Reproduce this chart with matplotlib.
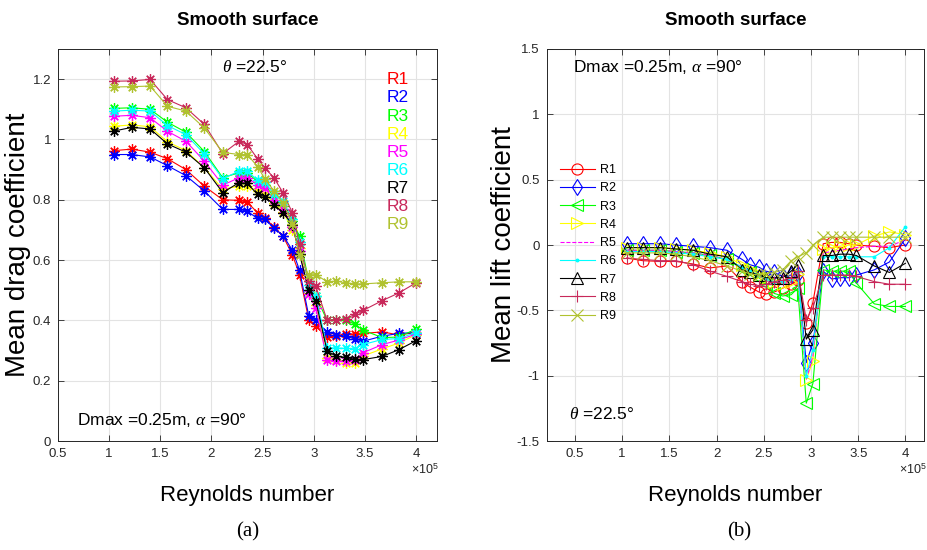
import matplotlib
matplotlib.use("Agg")
import matplotlib.pyplot as plt
from matplotlib.ticker import FuncFormatter

plt.rcParams['font.family'] = ['Liberation Sans', 'DejaVu Sans']
plt.rcParams['mathtext.fontset'] = 'custom'
plt.rcParams['mathtext.it'] = 'Liberation Serif:italic'
plt.rcParams['mathtext.rm'] = 'Liberation Sans'

# Reynolds number (x 1e5), same for both panels
re = [1.05, 1.22, 1.40, 1.57, 1.75, 1.93, 2.11, 2.27, 2.35, 2.45, 2.52, 2.61, 2.70,
      2.79, 2.86, 2.95, 3.02, 3.13, 3.22, 3.31, 3.40, 3.48, 3.67, 3.83, 4.00]

names = ['R1', 'R2', 'R3', 'R4', 'R5', 'R6', 'R7', 'R8', 'R9']

# (a) mean drag coefficient
cd_r1 = [0.963, 0.968, 0.958, 0.936, 0.900, 0.845, 0.800, 0.798, 0.792, 0.757, 0.741, 0.709, 0.679,
         0.618, 0.552, 0.403, 0.381, 0.345, 0.348, 0.355, 0.355, 0.357, 0.362, 0.352, 0.360]
cd_r2 = [0.950, 0.950, 0.942, 0.913, 0.880, 0.829, 0.768, 0.768, 0.762, 0.738, 0.735, 0.707, 0.681,
         0.633, 0.567, 0.416, 0.400, 0.361, 0.353, 0.348, 0.339, 0.331, 0.348, 0.357, 0.360]
cd_r3 = [1.103, 1.105, 1.100, 1.057, 1.024, 0.960, 0.873, 0.890, 0.890, 0.860, 0.850, 0.810, 0.780,
         0.730, 0.679, 0.530, 0.480, 0.400, 0.403, 0.403, 0.387, 0.368, 0.343, 0.345, 0.372]
cd_r4 = [1.044, 1.048, 1.042, 0.992, 0.963, 0.906, 0.835, 0.845, 0.845, 0.830, 0.820, 0.790, 0.760,
         0.700, 0.640, 0.490, 0.450, 0.275, 0.270, 0.260, 0.260, 0.282, 0.306, 0.325, 0.353]
cd_r5 = [1.077, 1.080, 1.072, 1.027, 0.994, 0.928, 0.849, 0.873, 0.873, 0.850, 0.840, 0.800, 0.770,
         0.710, 0.630, 0.486, 0.440, 0.270, 0.265, 0.265, 0.268, 0.293, 0.320, 0.335, 0.355]
cd_r6 = [1.094, 1.097, 1.094, 1.046, 1.016, 0.952, 0.870, 0.895, 0.895, 0.865, 0.860, 0.818, 0.795,
         0.735, 0.660, 0.519, 0.480, 0.309, 0.309, 0.307, 0.306, 0.320, 0.337, 0.340, 0.360]
cd_r7 = [1.028, 1.040, 1.035, 0.985, 0.958, 0.906, 0.824, 0.857, 0.854, 0.818, 0.810, 0.784, 0.757,
         0.718, 0.620, 0.502, 0.464, 0.298, 0.281, 0.278, 0.271, 0.270, 0.281, 0.303, 0.333]
cd_r8 = [1.193, 1.194, 1.199, 1.132, 1.105, 1.050, 0.953, 0.994, 0.983, 0.936, 0.906, 0.873, 0.823,
         0.757, 0.652, 0.530, 0.513, 0.400, 0.403, 0.405, 0.420, 0.433, 0.466, 0.491, 0.525]
cd_r9 = [1.174, 1.175, 1.177, 1.110, 1.094, 1.038, 0.957, 0.950, 0.950, 0.910, 0.870, 0.830, 0.790,
         0.720, 0.618, 0.550, 0.552, 0.528, 0.530, 0.525, 0.521, 0.521, 0.525, 0.528, 0.528]

# (b) mean lift coefficient
cl_r1 = [-0.10, -0.12, -0.125, -0.125, -0.145, -0.175, -0.16, -0.28, -0.32, -0.36, -0.375, -0.36, -0.33,
         -0.30, -0.27, -0.60, -0.44, 0.01, 0.02, 0.02, 0.01, 0.00, -0.01, -0.02, 0.00]
cl_r2 = [0.01, 0.01, 0.01, 0.00, -0.01, -0.02, -0.04, -0.11, -0.15, -0.17, -0.20, -0.21, -0.24,
         -0.23, -0.22, -0.90, -0.75, -0.20, -0.26, -0.25, -0.25, -0.23, -0.19, -0.13, 0.05]
cl_r3 = [-0.04, -0.04, -0.04, -0.05, -0.06, -0.08, -0.11, -0.18, -0.21, -0.25, -0.30, -0.37, -0.39,
         -0.38, -0.33, -1.21, -1.06, -0.19, -0.20, -0.20, -0.20, -0.29, -0.45, -0.47, -0.47]
cl_r4 = [-0.02, -0.02, -0.02, -0.03, -0.04, -0.06, -0.09, -0.15, -0.18, -0.22, -0.25, -0.28, -0.30,
         -0.28, -0.22, -1.03, -0.89, -0.03, -0.02, -0.01, 0.00, 0.00, 0.07, 0.10, 0.08]
cl_r5 = [-0.04, -0.04, -0.04, -0.05, -0.06, -0.08, -0.11, -0.17, -0.20, -0.24, -0.27, -0.30, -0.30,
         -0.28, -0.22, -1.03, -0.85, -0.06, -0.05, -0.04, -0.03, -0.02, -0.01, -0.01, 0.04]
cl_r6 = [-0.05, -0.05, -0.05, -0.06, -0.07, -0.09, -0.11, -0.17, -0.20, -0.23, -0.26, -0.28, -0.28,
         -0.26, -0.20, -1.00, -0.80, -0.09, -0.09, -0.09, -0.09, -0.09, -0.09, -0.02, 0.14]
cl_r7 = [-0.02, -0.02, -0.02, -0.03, -0.04, -0.07, -0.09, -0.19, -0.21, -0.23, -0.25, -0.25, -0.25,
         -0.20, -0.15, -0.72, -0.65, -0.08, -0.08, -0.07, -0.07, -0.08, -0.16, -0.21, -0.14]
cl_r8 = [-0.10, -0.11, -0.12, -0.12, -0.15, -0.20, -0.24, -0.28, -0.30, -0.31, -0.30, -0.28, -0.27,
         -0.25, -0.20, -0.57, -0.48, -0.23, -0.23, -0.23, -0.23, -0.24, -0.28, -0.30, -0.30]
cl_r9 = [-0.06, -0.06, -0.06, -0.07, -0.09, -0.12, -0.16, -0.20, -0.22, -0.23, -0.22, -0.21, -0.19,
         -0.12, -0.09, -0.06, 0.00, 0.06, 0.06, 0.06, 0.06, 0.06, 0.06, 0.06, 0.06]

cd_all = [cd_r1, cd_r2, cd_r3, cd_r4, cd_r5, cd_r6, cd_r7, cd_r8, cd_r9]
cl_all = [cl_r1, cl_r2, cl_r3, cl_r4, cl_r5, cl_r6, cl_r7, cl_r8, cl_r9]

colors = ['#ff0000', '#0000ff', '#00ff00', '#ffff00', '#ff00ff', '#00ffff', '#000000', '#c8285a', '#b0c22f']
lift_markers = ['o', 'd', '<', '>', '', '.', '^', '+', 'x']
lift_styles = ['-', '-', '-', '-', '--', '-', '-', '-', '-']

fig = plt.figure(figsize=(9.28, 5.5), dpi=100)
ax1 = fig.add_axes([0.0625, 0.198, 0.408, 0.713])
ax2 = fig.add_axes([0.589, 0.198, 0.407, 0.713])


def style_axes(ax):
    ax.grid(True, color='#e3e3e3', linewidth=0.8)
    ax.set_axisbelow(True)
    for s in ax.spines.values():
        s.set_color('#262626')
        s.set_linewidth(0.7)
    ax.tick_params(direction='in', length=4, width=0.6, top=True, right=True,
                   labelsize=9.5, colors='#262626', pad=5)
    ax.set_xticks([0.5, 1, 1.5, 2, 2.5, 3, 3.5, 4])
    ax.xaxis.set_major_formatter(FuncFormatter(lambda v, p: '%g' % v))
    ax.yaxis.set_major_formatter(FuncFormatter(lambda v, p: '%g' % v))
    ax.set_xlabel('Reynolds number', fontsize=16, labelpad=18)
    ax.set_title('Smooth surface', fontsize=13.5, fontweight='bold', pad=17)
    ax.text(1.006, -0.072, r'$\times10^5$', transform=ax.transAxes, ha='right', va='center',
            fontsize=9, color='#262626')


# ---- (a) drag ----
for vals, c in zip(cd_all, colors):
    ax1.plot(re, vals, color=c, linewidth=0.8, marker=(8, 2, 0), markersize=7.5,
             markeredgewidth=0.9)
ax1.set_xlim(0.5, 4.2)
ax1.set_ylim(0, 1.3)
ax1.set_yticks([0, 0.2, 0.4, 0.6, 0.8, 1.0, 1.2])
style_axes(ax1)
ax1.set_ylabel('Mean drag coefficient', fontsize=20, labelpad=1)
ax1.text(0.52, 0.955, r'$\theta$ =22.5°', transform=ax1.transAxes, ha='center', va='center',
         fontsize=12.5)
ax1.text(0.05, 0.03, r'Dmax =0.25m, $\alpha$ =90°', transform=ax1.transAxes, ha='left',
         va='bottom', fontsize=12.5)
for i, (n, c) in enumerate(zip(names, colors)):
    ax1.text(0.868, 0.921 - i * 0.046, n, transform=ax1.transAxes, color=c, fontsize=12.5,
             ha='left', va='center')

# ---- (b) lift ----
for vals, c, m, ls, n in zip(cl_all, colors, lift_markers, lift_styles, names):
    ax2.plot(re, vals, color=c, linewidth=0.8, linestyle=ls, marker=m if m else None,
             markersize=4 if m == '.' else 8,
             markerfacecolor=c if m == '.' else 'none', markeredgewidth=0.8, label=n)
ax2.set_xlim(0.2, 4.2)
ax2.set_ylim(-1.5, 1.5)
ax2.set_yticks([-1.5, -1, -0.5, 0, 0.5, 1, 1.5])
style_axes(ax2)
ax2.set_ylabel('Mean lift coefficient', fontsize=20, labelpad=0)
ax2.text(0.07, 0.955, r'Dmax =0.25m, $\alpha$ =90°', transform=ax2.transAxes, ha='left',
         va='center', fontsize=12.5)
ax2.text(0.06, 0.07, r'$\theta$ =22.5°', transform=ax2.transAxes, ha='left', va='center',
         fontsize=12.5)
ax2.legend(loc='upper left', bbox_to_anchor=(0.005, 0.735), frameon=False, fontsize=9,
           handlelength=2.8, labelspacing=0.5, handletextpad=0.4)

fig.text(0.267, 0.033, '(a)', fontsize=15, ha='center', va='center', family='Liberation Serif')
fig.text(0.797, 0.033, '(b)', fontsize=15, ha='center', va='center', family='Liberation Serif')

fig.savefig('out.png', dpi=100)
